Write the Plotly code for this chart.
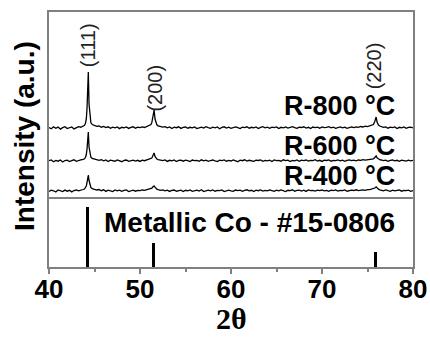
import plotly.graph_objects as go
from plotly.subplots import make_subplots

# ---- data (2theta in degrees, intensity in a.u. above each pattern's baseline) ----
two_theta = [
    40.0, 40.25, 40.5, 40.75, 41.0, 41.25, 41.5, 41.75, 42.0, 42.25, 42.5, 42.75, 43.0, 43.25, 43.5, 43.75,
    43.9, 44.0, 44.1, 44.18, 44.25, 44.32, 44.4, 44.5, 44.6, 44.75,
    45.0, 45.25, 45.5, 45.75, 46.0, 46.25, 46.5, 46.75, 47.0, 47.25, 47.5, 47.75, 48.0, 48.25, 48.5, 48.75,
    49.0, 49.25, 49.5, 49.75, 50.0, 50.25, 50.5, 50.75, 51.0,
    51.2, 51.3, 51.4, 51.55, 51.65, 51.75, 51.85,
    52.0, 52.25, 52.5, 52.75, 53.0, 53.25, 53.5, 53.75, 54.0, 54.25, 54.5, 54.75, 55.0, 55.25, 55.5, 55.75,
    56.0, 56.25, 56.5, 56.75, 57.0, 57.25, 57.5, 57.75, 58.0,
    58.25, 58.5, 58.75, 59.0, 59.25, 59.5, 59.75, 60.0, 60.25, 60.5, 60.75, 61.0, 61.25, 61.5, 61.75, 62.0,
    62.25, 62.5, 62.75, 63.0, 63.25, 63.5, 63.75, 64.0, 64.25,
    64.5, 64.75, 65.0, 65.25, 65.5, 65.75, 66.0, 66.25, 66.5, 66.75, 67.0, 67.25, 67.5, 67.75, 68.0, 68.25,
    68.5, 68.75, 69.0, 69.25, 69.5, 69.75, 70.0, 70.25, 70.5,
    70.75, 71.0, 71.25, 71.5, 71.75, 72.0, 72.25, 72.5, 72.75, 73.0, 73.25, 73.5, 73.75, 74.0, 74.25, 74.5,
    74.75, 75.0, 75.25, 75.5,
    75.65, 75.8, 75.95, 76.05, 76.2, 76.35,
    76.5, 76.75, 77.0, 77.25, 77.5, 77.75, 78.0, 78.25, 78.5, 78.75, 79.0, 79.25, 79.5, 79.75, 80.0,
]

r800 = [
    0.5, -0.8, 1.2, -0.3, 0.9, -1.1, 0.4, 1.3, -0.6, 0.2, 1.0, -0.9, 0.7, 1.4, 0.8, 2.0,
    2.8, 4.5, 9.0, 20.0, 38.0, 56.0, 24.0, 9.5, 5.5, 3.5,
    2.4, 1.6, 2.0, 0.8, 1.5, 0.4, 1.2, -0.3, 0.9, 0.2, 1.1, -0.6, 0.7, 0.1, 1.0, -0.4,
    0.6, 1.2, -0.2, 0.8, 0.3, 1.1, 0.5, 1.4, 2.2,
    3.5, 5.5, 10.0, 18.0, 9.0, 5.0, 3.2,
    2.2, 1.5, 0.9, 1.3, 0.2, 1.0, -0.5, 0.8, 0.3, 1.2, -0.4, 0.6, 1.0, -0.2, 0.7, 0.1,
    1.1, -0.6, 0.5, 0.9, -0.1, 1.3, 0.4, -0.3, 0.8,
    0.2, 1.0, -0.7, 0.6, 1.2, 0.0, 0.9, -0.4, 0.5, 1.1, 0.3, -0.5, 0.8, 0.4, 1.2, -0.2,
    0.7, 0.1, 1.0, -0.6, 0.6, 1.3, 0.2, 0.8, -0.3,
    0.9, 0.4, 1.1, -0.5, 0.7, 0.2, 1.0, -0.1, 0.8, 1.4, 0.3, -0.4, 0.9, 0.5, 1.2, 0.0,
    0.7, -0.6, 1.0, 0.4, 0.8, -0.2, 1.1, 0.3, 0.6,
    1.3, 0.1, 0.9, -0.3, 0.7, 1.1, 0.2, 0.8, -0.4, 0.6, 1.0, 0.4, 1.2, 0.7, 1.5, 1.0,
    1.8, 1.4, 2.0, 2.6,
    3.5, 6.5, 11.0, 6.0, 3.0, 2.0,
    1.4, 0.6, 1.1, -0.2, 0.8, 0.3, 1.0, -0.5, 0.7, 0.2, 1.1, -0.3, 0.6, 0.9, 0.1,
]

r600 = [
    0.3, 1.1, -0.7, 0.6, -0.2, 1.0, -1.0, 0.5, 0.9, -0.5, 0.4, 1.2, -0.3, 0.8, 1.1, 1.6,
    2.2, 3.5, 6.5, 12.0, 21.0, 29.0, 14.0, 6.0, 3.8, 2.6,
    1.8, 1.2, 0.6, 1.4, 0.2, 1.0, -0.5, 0.8, 0.3, -0.2, 1.1, 0.4, -0.7, 0.6, 1.0, -0.3,
    0.5, 0.9, 0.0, 0.7, -0.4, 0.8, 0.3, 1.0, 1.5,
    2.0, 3.0, 5.0, 8.0, 4.5, 2.8, 2.0,
    1.4, 0.9, 0.3, 1.0, -0.4, 0.7, 0.2, 1.1, -0.5, 0.6, 0.9, -0.2, 0.8, 0.3, -0.6, 1.0,
    0.4, 0.7, -0.3, 1.2, 0.1, 0.8, -0.4, 0.5, 1.0,
    0.2, -0.5, 0.9, 0.4, 1.1, -0.2, 0.6, 0.0, 1.0, 0.5, -0.7, 0.8, 0.3, 1.2, -0.1, 0.7,
    0.2, -0.4, 0.9, 0.5, 1.1, -0.3, 0.6, 0.1, 0.8,
    -0.5, 1.0, 0.3, 0.7, -0.2, 1.2, 0.4, 0.9, -0.6, 0.5, 0.2, 1.1, -0.3, 0.8, 0.4, 1.0,
    -0.1, 0.6, 0.3, 1.3, 0.0, 0.7, -0.4, 0.9, 0.5,
    1.1, -0.2, 0.6, 0.3, 1.0, 0.1, 0.8, -0.3, 0.7, 1.2, 0.4, 0.9, 0.2, 1.0, 0.6, 1.3,
    0.8, 1.2, 1.5, 1.9,
    2.2, 3.5, 5.0, 3.2, 2.0, 1.3,
    1.0, 0.3, 0.8, -0.4, 0.6, 1.0, 0.1, 0.7, -0.3, 0.9, 0.4, -0.1, 0.8, 0.2, 0.6,
]

r400 = [
    -0.4, 0.8, 0.2, -1.0, 1.1, 0.3, -0.6, 0.9, -0.2, 0.7, -0.9, 0.5, 1.0, 0.1, 1.2, 1.5,
    2.0, 3.0, 5.0, 8.5, 13.0, 16.0, 10.5, 5.5, 3.5, 2.4,
    1.9, 1.0, 1.5, 0.3, 1.2, -0.4, 0.9, 0.5, -0.6, 1.0, 0.2, 0.8, -0.3, 0.6, 1.1, -0.5,
    0.4, 0.9, -0.2, 0.7, 0.3, 1.0, 0.6, 1.2, 1.7,
    1.8, 2.8, 4.0, 5.0, 3.8, 2.5, 1.8,
    1.3, 0.7, 1.1, 0.2, 0.9, -0.4, 0.6, 1.0, -0.2, 0.5, 0.8, -0.6, 0.7, 0.2, 1.1, -0.3,
    0.6, 0.9, 0.0, 1.2, -0.5, 0.4, 0.8, 0.1, 1.0,
    -0.2, 0.7, 0.3, 1.1, -0.6, 0.5, 0.9, 0.2, -0.3, 1.0, 0.4, 0.8, -0.4, 0.6, 1.2, 0.1,
    0.7, -0.5, 0.9, 0.3, 1.0, -0.1, 0.6, 0.2, 1.1,
    0.4, -0.3, 0.8, 0.1, 1.0, 0.5, -0.6, 0.7, 0.3, 1.2, -0.2, 0.6, 0.9, 0.0, 0.8, -0.4,
    1.1, 0.3, 0.7, -0.1, 0.9, 0.4, 1.0, 0.2, 0.6,
    -0.3, 0.8, 0.4, 1.1, 0.0, 0.7, 0.3, 1.0, -0.2, 0.6, 0.9, 0.5, 1.2, 0.3, 0.8, 1.1,
    0.7, 1.4, 1.3, 1.8,
    2.0, 3.0, 4.2, 2.8, 1.8, 1.2,
    0.9, 0.2, 1.0, 0.4, -0.3, 0.8, 0.1, 0.6, 1.0, -0.2, 0.7, 0.3, 0.9, -0.4, 0.5,
]

sample_labels = ["R-800 °C", "R-600 °C", "R-400 °C"]
peak_labels = ["(111)", "(200)", "(220)"]
peak_positions = [44.3, 51.6, 75.75]

ref_label = "Metallic Co - #15-0806"
ref_two_theta = [44.2, 51.5, 75.85]
ref_intensity = [100, 40, 25]

x_ticks = [40, 50, 60, 70, 80]

# ---- styling / layout ----
offsets = [69, 36, 6]
label_y = [91, 51, 21]
peak_label_y = [152, 109, 131]
FRAME = "#808080"
SANS = "Liberation Sans"
W, H = 430, 337
ML, MR, MT, MB = 49, 17, 12, 70
PW, PH = W - ML - MR, H - MT - MB

fig = make_subplots(rows=2, cols=1, shared_xaxes=True, vertical_spacing=0,
                    row_heights=[0.7255, 0.2745])

for vals, off, name in zip([r800, r600, r400], offsets, sample_labels):
    fig.add_trace(go.Scatter(x=two_theta, y=[v + off for v in vals], mode="lines",
                             line=dict(color="black", width=1.3), name=name,
                             showlegend=False), row=1, col=1)

fig.add_trace(go.Bar(x=ref_two_theta, y=ref_intensity, width=0.33,
                     marker=dict(color="black", line=dict(width=0)),
                     showlegend=False, name=ref_label), row=2, col=1)

for txt, ly in zip(sample_labels, label_y):
    fig.add_annotation(x=78.25, y=ly, xref="x", yref="y", text="<b>" + txt + "</b>",
                       showarrow=False, xanchor="right", yanchor="middle",
                       font=dict(family=SANS, size=27, color="black"))

for txt, px, py in zip(peak_labels, peak_positions, peak_label_y):
    fig.add_annotation(x=px, y=py, xref="x", yref="y", text=txt, textangle=-90,
                       showarrow=False, xanchor="center", yanchor="middle",
                       font=dict(family=SANS, size=20, color="#222222"))

fig.add_annotation(x=45.8, y=75, xref="x2", yref="y2", text="<b>" + ref_label + "</b>",
                   showarrow=False, xanchor="left", yanchor="middle",
                   font=dict(family=SANS, size=28, color="black"))

fig.update_xaxes(range=[40, 80], showgrid=False, zeroline=False, automargin=False,
                 showline=True, linecolor=FRAME, linewidth=1.5)
fig.update_xaxes(showticklabels=False, ticks="", mirror=True, row=1, col=1)
fig.update_xaxes(mirror=False, tickvals=x_ticks, ticktext=[str(t) for t in x_ticks], ticks="outside",
                 ticklen=5, tickwidth=1.5, tickcolor=FRAME, ticklabelstandoff=-7,
                 minor=dict(dtick=5, tick0=40, ticks="outside", ticklen=3, tickwidth=1.5, tickcolor=FRAME),
                 tickfont=dict(family=SANS, size=26, color="black", weight="bold"),
                 row=2, col=1)

fig.update_yaxes(showticklabels=False, ticks="", showline=True, linecolor=FRAME, linewidth=1.5,
                 mirror=True, showgrid=False, zeroline=False, automargin=False)
fig.update_yaxes(range=[0, 185], row=1, col=1)
fig.update_yaxes(range=[0, 116.7], row=2, col=1)

# axis titles placed in pixel coordinates
fig.add_annotation(x=(24 - ML) / PW, y=(H - MB - 136) / PH, xref="paper", yref="paper",
                   text="<b>Intensity (a.u.)</b>", textangle=-90, showarrow=False,
                   xanchor="center", yanchor="middle",
                   font=dict(family=SANS, size=28, color="black"))
fig.add_annotation(x=0.5, y=(H - MB - 318) / PH, xref="paper", yref="paper",
                   text="<b>2θ</b>", showarrow=False, xanchor="center", yanchor="middle",
                   font=dict(family="Liberation Serif", size=30, color="black"))

fig.update_layout(width=W, height=H, margin=dict(l=ML, r=MR, t=MT, b=MB, autoexpand=False),
                  paper_bgcolor="white", plot_bgcolor="white", bargap=0)

fig.write_html("out.html", config={"displayModeBar": False},
               post_script="document.body.style.margin='0px';document.body.style.overflow='hidden';")
